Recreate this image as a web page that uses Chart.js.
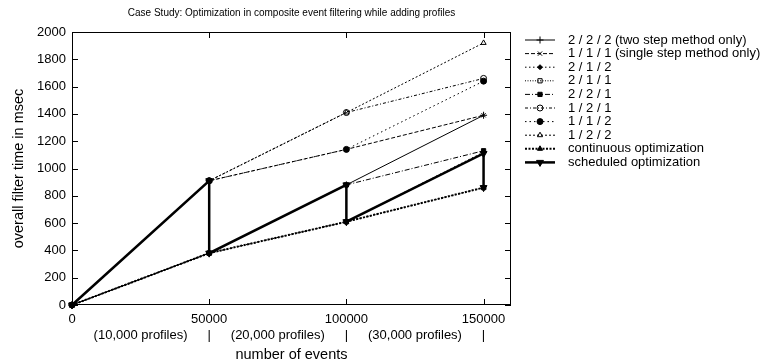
<!DOCTYPE html>
<html>
<head>
<meta charset="utf-8">
<script src="https://cdn.jsdelivr.net/npm/chart.js@4.4.1/dist/chart.umd.min.js"></script>
<style>
  html, body { margin: 0; padding: 0; background: #fff; }
  #wrap { width: 765px; height: 364px; }
</style>
</head>
<body>
<div id="wrap"><canvas id="chart"></canvas></div>
<script>
// number of events
const events = [0, 50000, 100000, 150000];
const profileLabels = ['(10,000 profiles)', '(20,000 profiles)', '(30,000 profiles)'];

// filter time in msec at each event count
const m222 = [0, 380, 880, 1390];
const m111 = [0, 910, 1140, 1390];
const m212 = [0, 380, 610, 1120];
const m211 = [0, 380, 610, 860];
const m221 = [0, 380, 880, 1130];
const m121 = [0, 910, 1410, 1660];
const m112 = [0, 910, 1140, 1640];
const m122 = [0, 910, 1410, 1920];
const continuous = [0, 380, 610, 860];

// scheduled optimization jumps down at each step
const schedEvents = [0, 50000, 50000, 100000, 100000, 150000, 150000];
const schedTime = [0, 910, 380, 880, 610, 1110, 860];

const FONT = '"Liberation Sans", Arial, Helvetica, sans-serif';
const pts = (xs, ys) => ys.map((v, i) => ({ x: xs[i], y: v }));

function series(label, ys, dash, style, fill, extra) {
  return Object.assign({
    label: label,
    data: pts(events, ys),
    borderColor: '#000',
    borderWidth: 1,
    borderDash: dash,
    pointStyle: style,
    pointRadius: 3,
    pointBorderWidth: 1,
    pointBorderColor: '#000',
    pointBackgroundColor: fill ? '#000' : 'rgba(0,0,0,0)',
    pointRotation: 0,
    tension: 0,
    clip: false
  }, extra || {});
}

const datasets = [
  series('2 / 2 / 2 (two step method only)', m222, [], 'cross', true, { pointRadius: 3.5 }),
  series('1 / 1 / 1 (single step method only)', m111, [4, 2], 'crossRot', true),
  series('2 / 1 / 2', m212, [1.5, 2.5], 'rectRot', true, { pointRadius: 2.5 }),
  series('2 / 1 / 1', m211, [1, 1.5], 'rect', false),
  series('2 / 2 / 1', m221, [5, 2, 1, 2], 'rect', true),
  series('1 / 2 / 1', m121, [3, 2, 1, 2], 'circle', false),
  series('1 / 1 / 2', m112, [1.5, 3], 'circle', true),
  series('1 / 2 / 2', m122, [2, 2], 'triangle', false),
  series('continuous optimization', continuous, [2, 1.5], 'triangle', true, { borderWidth: 2 }),
  {
    label: 'scheduled optimization',
    data: pts(schedEvents, schedTime),
    borderColor: '#000',
    borderWidth: 2.5,
    pointStyle: 'triangle',
    pointRotation: 180,
    pointRadius: 4,
    pointBorderWidth: 1,
    pointBorderColor: '#000',
    pointBackgroundColor: '#000',
    tension: 0,
    clip: false
  }
];

// plot frame with inward ticks (gnuplot style)
const framePlugin = {
  id: 'frame',
  beforeDatasetsDraw(chart) {
    const { ctx, chartArea: a, scales: { x, y } } = chart;
    ctx.save();
    ctx.strokeStyle = '#000';
    ctx.lineWidth = 1;
    ctx.setLineDash([]);
    ctx.strokeRect(a.left + 0.5, a.top + 0.5, a.right - a.left - 1, a.bottom - a.top - 1);
    ctx.beginPath();
    y.ticks.forEach(t => {
      const py = Math.round(y.getPixelForValue(t.value)) + 0.5;
      ctx.moveTo(a.left, py); ctx.lineTo(a.left + 6, py);
      ctx.moveTo(a.right, py); ctx.lineTo(a.right - 6, py);
    });
    events.forEach(v => {
      const px = Math.round(x.getPixelForValue(v)) + 0.5;
      ctx.moveTo(px, a.bottom); ctx.lineTo(px, a.bottom - 6);
      ctx.moveTo(px, a.top); ctx.lineTo(px, a.top + 6);
    });
    ctx.stroke();
    ctx.restore();
  },
  afterDraw(chart) {
    const { ctx, chartArea: a } = chart;
    ctx.save();
    ctx.fillStyle = '#000';
    ctx.font = '10px ' + FONT;
    ctx.textAlign = 'center';
    ctx.textBaseline = 'middle';
    ctx.fillText('Case Study: Optimization in composite event filtering while adding profiles', (a.left + a.right) / 2, 13);
    ctx.restore();
  }
};

// legend on the right: line sample + marker + label
const sideLegend = {
  id: 'sideLegend',
  afterDraw(chart) {
    const ctx = chart.ctx;
    ctx.save();
    ctx.font = '13px ' + FONT;
    ctx.textBaseline = 'middle';
    ctx.textAlign = 'left';
    chart.data.datasets.forEach((ds, i) => {
      const yy = 40 + i * 13.6;
      ctx.strokeStyle = '#000';
      ctx.lineWidth = ds.borderWidth;
      ctx.setLineDash(ds.borderDash || []);
      ctx.beginPath();
      ctx.moveTo(525, yy); ctx.lineTo(555, yy);
      ctx.stroke();
      ctx.setLineDash([]);
      ctx.lineWidth = ds.pointBorderWidth;
      ctx.fillStyle = ds.pointBackgroundColor;
      Chart.helpers.drawPoint(ctx, {
        pointStyle: ds.pointStyle,
        radius: ds.pointRadius,
        rotation: ds.pointRotation || 0,
        borderWidth: ds.pointBorderWidth
      }, 540, yy);
      ctx.fillStyle = '#000';
      ctx.fillText(ds.label, 568, yy);
    });
    ctx.restore();
  }
};

const xTickValues = [0, 25000, 50000, 75000, 100000, 125000, 150000];

new Chart(document.getElementById('chart').getContext('2d'), {
  type: 'line',
  data: { datasets: datasets },
  options: {
    responsive: true,
    maintainAspectRatio: false,
    animation: false,
    layout: { padding: { left: 0, top: 32, right: 254, bottom: 0 } },
    plugins: { legend: { display: false }, tooltip: { enabled: false } },
    scales: {
      x: {
        type: 'linear',
        min: 0,
        max: 160000,
        afterFit(scale) { scale.height = 59; },
        afterBuildTicks(scale) { scale.ticks = xTickValues.map(v => ({ value: v })); },
        grid: { display: false, drawTicks: false },
        border: { display: false },
        ticks: {
          autoSkip: false,
          maxRotation: 0,
          padding: 6,
          color: '#000',
          font: { family: FONT, size: 13, lineHeight: 1.25 },
          callback(value) {
            const k = value / 50000;
            if (Number.isInteger(k)) return [String(value), k > 0 ? '|' : ''];
            return ['', profileLabels[Math.floor(k)]];
          }
        },
        title: {
          display: true,
          text: 'number of events',
          color: '#000',
          font: { family: FONT, size: 14.5, lineHeight: 1.2 },
          padding: { top: 0, bottom: 0 }
        }
      },
      y: {
        min: 0,
        max: 2000,
        afterFit(scale) { scale.width = 72; },
        grid: { display: false, drawTicks: false },
        border: { display: false },
        ticks: {
          stepSize: 200,
          padding: 6,
          color: '#000',
          font: { family: FONT, size: 13 },
          callback: v => String(v)
        },
        title: {
          display: true,
          text: 'overall filter time in msec',
          color: '#000',
          font: { family: FONT, size: 14.5, lineHeight: 1.2 },
          padding: { top: 10, bottom: 0 }
        }
      }
    }
  },
  plugins: [framePlugin, sideLegend]
});
</script>
</body>
</html>
